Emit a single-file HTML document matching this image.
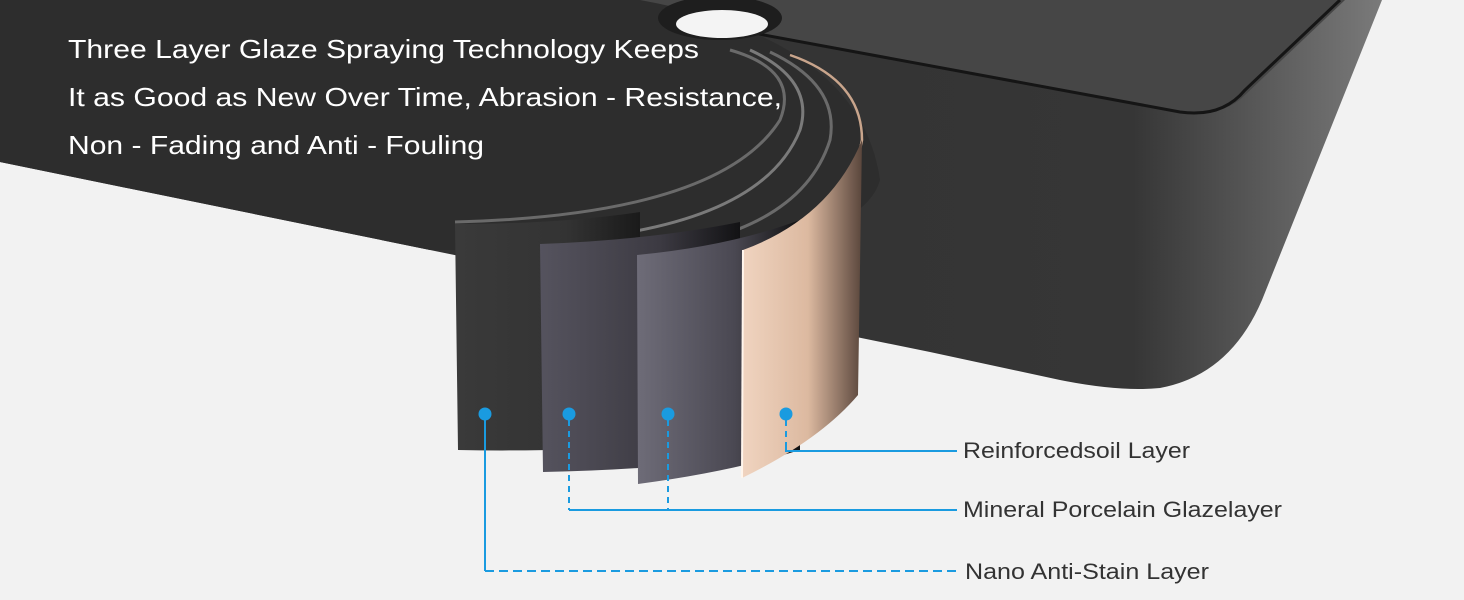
<!DOCTYPE html>
<html><head><meta charset="utf-8"><style>
html,body{margin:0;padding:0;background:#f2f2f2;}
svg{display:block}
text{font-family:"Liberation Sans",Arial,sans-serif}
</style></head><body>
<svg width="1464" height="600" viewBox="0 0 1464 600" xmlns="http://www.w3.org/2000/svg">
<defs>
<linearGradient id="cop" x1="0" x2="1" y1="0" y2="0">
<stop offset="0" stop-color="#f0d4c0"/><stop offset="0.55" stop-color="#dcb9a0"/><stop offset="1" stop-color="#5a463c"/></linearGradient>
<linearGradient id="l3" x1="0" x2="1"><stop offset="0" stop-color="#6e6c78"/><stop offset="0.6" stop-color="#4a4852"/><stop offset="1" stop-color="#111"/></linearGradient>
<linearGradient id="l2" x1="0" x2="1"><stop offset="0" stop-color="#55535e"/><stop offset="0.6" stop-color="#3c3a42"/><stop offset="1" stop-color="#121214"/></linearGradient>
<linearGradient id="l1" x1="0" x2="1"><stop offset="0" stop-color="#3a3a3a"/><stop offset="0.6" stop-color="#333"/><stop offset="1" stop-color="#1a1a1a"/></linearGradient>
<linearGradient id="side" x1="0" x2="1"><stop offset="0" stop-color="#2e2e2e"/><stop offset="0.82" stop-color="#363636"/><stop offset="1" stop-color="#7a7a7a"/></linearGradient>
</defs>
<rect width="1464" height="600" fill="#f2f2f2"/>
<path d="M0,0 L1382,0 L1262,300 Q1230,375 1160,388 Q1120,392 1060,380 L930,352 L430,250 L0,162 Z" fill="url(#side)"/>
<path d="M0,0 L1345,0 L1245,95 Q1222,118 1180,112 L640,12 L0,0 Z" fill="#464646"/>
<path d="M640,12 L1180,112 Q1222,118 1245,90 L1340,0" fill="none" stroke="#151515" stroke-width="3"/>
<path d="M0,0 L640,0 Q860,40 880,180 Q860,250 640,250 L430,250 L0,162 Z" fill="#2d2d2d"/>
<ellipse cx="720" cy="18" rx="62" ry="22" fill="#1e1e1e"/>
<ellipse cx="722" cy="24" rx="46" ry="14" fill="#f4f4f4"/>
<path d="M455,222 Q720,215 780,120 Q800,70 730,50" fill="none" stroke="#6a6a6a" stroke-width="3"/>
<path d="M540,242 Q760,230 800,130 Q815,80 750,50" fill="none" stroke="#7a7a7a" stroke-width="3"/>
<path d="M637,252 Q800,235 830,140 Q840,85 770,52" fill="none" stroke="#6a6a6a" stroke-width="3"/>
<path d="M743,248 Q850,210 862,140 Q862,80 790,55" fill="none" stroke="#c9a58c" stroke-width="2.5"/>
<path d="M455,224 Q560,224 640,212 L640,445 Q560,452 458,450 Z" fill="url(#l1)"/>
<path d="M540,244 Q650,240 740,222 L740,458 Q650,470 543,472 Z" fill="url(#l2)"/>
<path d="M637,255 Q730,246 800,220 L800,450 Q730,472 638,484 Z" fill="url(#l3)"/>
<path d="M743,250 Q830,218 862,140 L858,395 Q820,440 742,478 Z" fill="url(#cop)"/>
<path d="M743,250 L742,478" stroke="#fff5ec" stroke-width="2"/>
<g fill="#ffffff" font-size="26">
<text x="68" y="58" textLength="631" lengthAdjust="spacingAndGlyphs">Three Layer Glaze Spraying Technology Keeps</text>
<text x="68" y="106" textLength="714" lengthAdjust="spacingAndGlyphs">It as Good as New Over Time, Abrasion - Resistance,</text>
<text x="68" y="154" textLength="416" lengthAdjust="spacingAndGlyphs">Non - Fading and Anti - Fouling</text>
</g>
<g stroke="#1a9be0" stroke-width="2" fill="none">
<path d="M786,420 L786,442" stroke-dasharray="6,5"/>
<path d="M786,442 L786,451 L957,451"/>
<path d="M569,420 L569,510 M668,420 L668,510" stroke-dasharray="6,5"/>
<path d="M569,510 L957,510"/>
<path d="M485,414 L485,571"/>
<path d="M485,571 L957,571" stroke-dasharray="9,5"/>
</g>
<g fill="#1a9be0">
<circle cx="485" cy="414" r="6.5"/><circle cx="569" cy="414" r="6.5"/>
<circle cx="668" cy="414" r="6.5"/><circle cx="786" cy="414" r="6.5"/>
</g>
<g fill="#333" font-size="22">
<text x="963" y="458" textLength="227" lengthAdjust="spacingAndGlyphs">Reinforcedsoil Layer</text>
<text x="963" y="517" textLength="319" lengthAdjust="spacingAndGlyphs">Mineral Porcelain Glazelayer</text>
<text x="965" y="579" textLength="244" lengthAdjust="spacingAndGlyphs">Nano Anti-Stain Layer</text>
</g>
</svg>
</body></html>
